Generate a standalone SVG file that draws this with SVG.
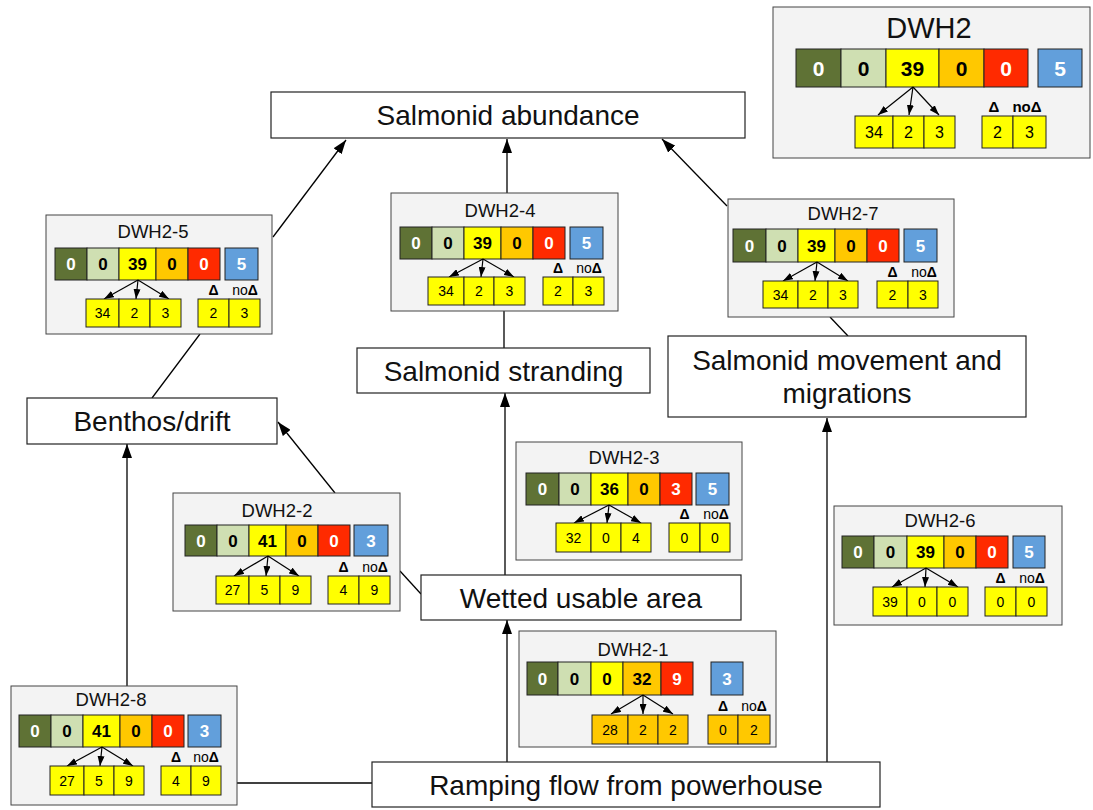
<svg xmlns="http://www.w3.org/2000/svg" width="1093" height="810" viewBox="0 0 1093 810">
  <defs>
    <marker id="arrow" viewBox="0 0 14 10" refX="14" refY="5" markerWidth="14" markerHeight="10" markerUnits="userSpaceOnUse" orient="auto">
      <path d="M0,0 L14,5 L0,10 Z" fill="#000"/>
    </marker>
    <marker id="tick" viewBox="0 0 10 7" refX="10" refY="3.5" markerWidth="10" markerHeight="7" markerUnits="userSpaceOnUse" orient="auto">
      <path d="M0,0 L10,3.5 L0,7 Z" fill="#000"/>
    </marker>
  </defs>
  <style>
    text { font-family: "Liberation Sans", Arial, sans-serif; text-anchor: middle; }
    .panel { fill: #f3f3f3; stroke: #444; stroke-width: 1; }
    .node { fill: #fff; stroke: #222; stroke-width: 1.2; }
    .cell { stroke: #222; stroke-width: 1; }
    .g1 { fill: #5f7235; }
    .g2 { fill: #cfdfb2; }
    .y { fill: #ffff00; }
    .o { fill: #ffc800; }
    .r { fill: #ff2a00; }
    .b { fill: #629fdb; }
    .num { font-size: 17px; font-weight: bold; }
    .wt { fill: #fff; }
    .bk { fill: #000; }
    .sub { font-size: 14px; fill: #000; }
    .ttl { font-size: 18.5px; fill: #111; }
    .lbl { font-size: 28px; fill: #111; }
    .dl { font-size: 14px; fill: #000; }
    .bold { font-weight: bold; }
    .link { stroke: #000; stroke-width: 1.3; fill: none; }
    .split { stroke: #000; stroke-width: 1.2; fill: none; }
  </style>

  <rect width="1093" height="810" fill="#fff"/>

  <!-- connectors -->
  <g id="connectors">
    <line class="link" x1="273" y1="237" x2="346" y2="140" marker-end="url(#arrow)"/>
    <line class="link" x1="507" y1="193" x2="507" y2="139" marker-end="url(#arrow)"/>
    <line class="link" x1="727" y1="206" x2="662" y2="139" marker-end="url(#arrow)"/>
    <line class="link" x1="152" y1="398" x2="200" y2="334"/>
    <line class="link" x1="335" y1="493" x2="278" y2="422" marker-end="url(#arrow)"/>
    <line class="link" x1="127" y1="686" x2="127" y2="444" marker-end="url(#arrow)"/>
    <line class="link" x1="504" y1="311" x2="504" y2="348"/>
    <line class="link" x1="505" y1="575" x2="505" y2="393" marker-end="url(#arrow)"/>
    <line class="link" x1="830" y1="317" x2="848" y2="336"/>
    <line class="link" x1="400" y1="571" x2="421" y2="594"/>
    <line class="link" x1="507" y1="762" x2="507" y2="620" marker-end="url(#arrow)"/>
    <line class="link" x1="827" y1="762" x2="827" y2="418" marker-end="url(#arrow)"/>
    <line class="link" x1="237" y1="783" x2="372" y2="783"/>
  </g>

  <!-- outcome and driver boxes -->
  <g id="salmonid-abundance">
    <rect class="node" x="271" y="92" width="474" height="46"/>
    <text class="lbl" x="508" y="125">Salmonid abundance</text>
  </g>
  <g id="benthos-drift">
    <rect class="node" x="27" y="398" width="250" height="46"/>
    <text class="lbl" x="152" y="431">Benthos/drift</text>
  </g>
  <g id="salmonid-stranding">
    <rect class="node" x="357" y="348" width="293" height="45"/>
    <text class="lbl" x="503.5" y="381">Salmonid stranding</text>
  </g>
  <g id="salmonid-movement">
    <rect class="node" x="668" y="336" width="358" height="81"/>
    <text class="lbl" x="847" y="370">Salmonid movement and</text>
    <text class="lbl" x="847" y="403">migrations</text>
  </g>
  <g id="wetted-usable-area">
    <rect class="node" x="421" y="575" width="320" height="45"/>
    <text class="lbl" x="581" y="608">Wetted usable area</text>
  </g>
  <g id="ramping-flow">
    <rect class="node" x="372" y="762" width="508" height="45"/>
    <text class="lbl" x="626" y="795">Ramping flow from powerhouse</text>
  </g>

  <!-- summary panel -->
  <g id="dwh2">
    <rect class="panel" x="773" y="7" width="317" height="151"/>
    <text x="929" y="38" style="font-size:29px" fill="#111">DWH2</text>
    <rect class="cell g1" x="796" y="49" width="45" height="38"/>
    <rect class="cell g2" x="841" y="49" width="45" height="38"/>
    <rect class="cell y" x="886" y="49" width="53" height="38"/>
    <rect class="cell o" x="939" y="49" width="45" height="38"/>
    <rect class="cell r" x="984" y="49" width="44" height="38"/>
    <rect class="cell b" x="1038" y="49" width="44" height="38"/>
    <g style="font-size:21px;font-weight:bold">
      <text class="wt" x="818.5" y="75.5">0</text>
      <text class="bk" x="863.5" y="75.5">0</text>
      <text class="bk" x="912.5" y="75.5">39</text>
      <text class="bk" x="961.5" y="75.5">0</text>
      <text class="wt" x="1006" y="75.5">0</text>
      <text class="wt" x="1060" y="75.5">5</text>
    </g>
    <line class="split" x1="913" y1="87" x2="878" y2="115" marker-end="url(#tick)"/>
    <line class="split" x1="913" y1="87" x2="909" y2="115" marker-end="url(#tick)"/>
    <line class="split" x1="913" y1="87" x2="939" y2="115" marker-end="url(#tick)"/>
    <rect class="cell y" x="855" y="116" width="38" height="32"/>
    <rect class="cell y" x="893" y="116" width="31" height="32"/>
    <rect class="cell y" x="924" y="116" width="31" height="32"/>
    <rect class="cell y" x="982" y="116" width="31" height="32"/>
    <rect class="cell y" x="1013" y="116" width="33" height="32"/>
    <g class="sub" style="font-size:16px">
      <text x="874" y="138">34</text>
      <text x="908.5" y="138">2</text>
      <text x="939.5" y="138">3</text>
      <text x="997.5" y="138">2</text>
      <text x="1029.5" y="138">3</text>
    </g>
    <text class="dl bold" x="994" y="112" style="font-size:15px">Δ</text>
    <text class="dl" x="1027" y="112" style="font-size:15px;font-weight:bold">no<tspan>Δ</tspan></text>
  </g>

  <!-- DWH2-5 -->
  <g id="dwh2-5">
    <rect class="panel" x="46" y="215" width="226" height="119"/>
    <g transform="translate(55,248)">
      <text class="ttl" x="98" y="-10">DWH2-5</text>
      <rect class="cell g1" x="0" y="0" width="32" height="32"/>
      <rect class="cell g2" x="32" y="0" width="32" height="32"/>
      <rect class="cell y" x="64" y="0" width="37" height="32"/>
      <rect class="cell o" x="101" y="0" width="32" height="32"/>
      <rect class="cell r" x="133" y="0" width="32" height="32"/>
      <rect class="cell b" x="170" y="0" width="33" height="32"/>
      <text class="num wt" x="16" y="22">0</text>
      <text class="num bk" x="48" y="22">0</text>
      <text class="num bk" x="82.5" y="22">39</text>
      <text class="num bk" x="117" y="22">0</text>
      <text class="num wt" x="149" y="22">0</text>
      <text class="num wt" x="186.5" y="22">5</text>
      <line class="split" x1="83" y1="32" x2="49" y2="51" marker-end="url(#tick)"/>
      <line class="split" x1="83" y1="32" x2="81" y2="51" marker-end="url(#tick)"/>
      <line class="split" x1="83" y1="32" x2="114" y2="51" marker-end="url(#tick)"/>
      <rect class="cell y" x="31" y="51" width="33" height="28"/>
      <rect class="cell y" x="64" y="51" width="31" height="28"/>
      <rect class="cell y" x="95" y="51" width="31" height="28"/>
      <rect class="cell y" x="143" y="51" width="31" height="28"/>
      <rect class="cell y" x="174" y="51" width="31" height="28"/>
      <text class="sub" x="47.5" y="70">34</text>
      <text class="sub" x="79.5" y="70">2</text>
      <text class="sub" x="110.5" y="70">3</text>
      <text class="sub" x="158.5" y="70">2</text>
      <text class="sub" x="189.5" y="70">3</text>
      <text class="dl bold" x="158.5" y="47">Δ</text>
      <text class="dl" x="190" y="47">no<tspan class="bold">Δ</tspan></text>
    </g>
  </g>

  <!-- DWH2-4 -->
  <g id="dwh2-4">
    <rect class="panel" x="391" y="193" width="227" height="118"/>
    <g transform="translate(400,227)">
      <text class="ttl" x="100" y="-10">DWH2-4</text>
      <rect class="cell g1" x="0" y="0" width="32" height="32"/>
      <rect class="cell g2" x="32" y="0" width="32" height="32"/>
      <rect class="cell y" x="64" y="0" width="37" height="32"/>
      <rect class="cell o" x="101" y="0" width="32" height="32"/>
      <rect class="cell r" x="133" y="0" width="32" height="32"/>
      <rect class="cell b" x="170" y="0" width="33" height="32"/>
      <text class="num wt" x="16" y="22">0</text>
      <text class="num bk" x="48" y="22">0</text>
      <text class="num bk" x="82.5" y="22">39</text>
      <text class="num bk" x="117" y="22">0</text>
      <text class="num wt" x="149" y="22">0</text>
      <text class="num wt" x="186.5" y="22">5</text>
      <line class="split" x1="83" y1="32" x2="49" y2="50" marker-end="url(#tick)"/>
      <line class="split" x1="83" y1="32" x2="81" y2="50" marker-end="url(#tick)"/>
      <line class="split" x1="83" y1="32" x2="114" y2="50" marker-end="url(#tick)"/>
      <rect class="cell y" x="28" y="50" width="36" height="28"/>
      <rect class="cell y" x="64" y="50" width="30" height="28"/>
      <rect class="cell y" x="94" y="50" width="31" height="28"/>
      <rect class="cell y" x="143" y="50" width="30" height="28"/>
      <rect class="cell y" x="173" y="50" width="31" height="28"/>
      <text class="sub" x="46" y="69">34</text>
      <text class="sub" x="79" y="69">2</text>
      <text class="sub" x="109.5" y="69">3</text>
      <text class="sub" x="158" y="69">2</text>
      <text class="sub" x="188.5" y="69">3</text>
      <text class="dl bold" x="158" y="46">Δ</text>
      <text class="dl" x="189" y="46">no<tspan class="bold">Δ</tspan></text>
    </g>
  </g>

  <!-- DWH2-7 -->
  <g id="dwh2-7">
    <rect class="panel" x="728" y="199" width="226" height="118"/>
    <g transform="translate(733,229)">
      <text class="ttl" x="110" y="-9">DWH2-7</text>
      <rect class="cell g1" x="0" y="0" width="33" height="33"/>
      <rect class="cell g2" x="33" y="0" width="32" height="33"/>
      <rect class="cell y" x="65" y="0" width="37" height="33"/>
      <rect class="cell o" x="102" y="0" width="32" height="33"/>
      <rect class="cell r" x="134" y="0" width="32" height="33"/>
      <rect class="cell b" x="171" y="0" width="33" height="33"/>
      <text class="num wt" x="16.5" y="22.5">0</text>
      <text class="num bk" x="49" y="22.5">0</text>
      <text class="num bk" x="83.5" y="22.5">39</text>
      <text class="num bk" x="118" y="22.5">0</text>
      <text class="num wt" x="150" y="22.5">0</text>
      <text class="num wt" x="187.5" y="22.5">5</text>
      <line class="split" x1="84" y1="33" x2="50" y2="52" marker-end="url(#tick)"/>
      <line class="split" x1="84" y1="33" x2="82" y2="52" marker-end="url(#tick)"/>
      <line class="split" x1="84" y1="33" x2="115" y2="52" marker-end="url(#tick)"/>
      <rect class="cell y" x="30" y="52" width="35" height="27"/>
      <rect class="cell y" x="65" y="52" width="30" height="27"/>
      <rect class="cell y" x="95" y="52" width="30" height="27"/>
      <rect class="cell y" x="144" y="52" width="31" height="27"/>
      <rect class="cell y" x="175" y="52" width="30" height="27"/>
      <text class="sub" x="47.5" y="70.5">34</text>
      <text class="sub" x="80" y="70.5">2</text>
      <text class="sub" x="110" y="70.5">3</text>
      <text class="sub" x="159.5" y="70.5">2</text>
      <text class="sub" x="190" y="70.5">3</text>
      <text class="dl bold" x="159.5" y="48">Δ</text>
      <text class="dl" x="191" y="48">no<tspan class="bold">Δ</tspan></text>
    </g>
  </g>

  <!-- DWH2-3 -->
  <g id="dwh2-3">
    <rect class="panel" x="516" y="442" width="226" height="118"/>
    <g transform="translate(526,473)">
      <text class="ttl" x="98" y="-9">DWH2-3</text>
      <rect class="cell g1" x="0" y="0" width="33" height="32"/>
      <rect class="cell g2" x="33" y="0" width="32" height="32"/>
      <rect class="cell y" x="65" y="0" width="37" height="32"/>
      <rect class="cell o" x="102" y="0" width="32" height="32"/>
      <rect class="cell r" x="134" y="0" width="32" height="32"/>
      <rect class="cell b" x="170" y="0" width="33" height="32"/>
      <text class="num wt" x="16.5" y="22">0</text>
      <text class="num bk" x="49" y="22">0</text>
      <text class="num bk" x="83.5" y="22">36</text>
      <text class="num bk" x="118" y="22">0</text>
      <text class="num wt" x="150" y="22">3</text>
      <text class="num wt" x="186.5" y="22">5</text>
      <line class="split" x1="83" y1="32" x2="48" y2="50" marker-end="url(#tick)"/>
      <line class="split" x1="83" y1="32" x2="81" y2="50" marker-end="url(#tick)"/>
      <line class="split" x1="83" y1="32" x2="115" y2="50" marker-end="url(#tick)"/>
      <rect class="cell y" x="30" y="50" width="35" height="29"/>
      <rect class="cell y" x="65" y="50" width="30" height="29"/>
      <rect class="cell y" x="95" y="50" width="30" height="29"/>
      <rect class="cell y" x="143" y="50" width="31" height="29"/>
      <rect class="cell y" x="174" y="50" width="30" height="29"/>
      <text class="sub" x="47.5" y="69.5">32</text>
      <text class="sub" x="80" y="69.5">0</text>
      <text class="sub" x="110" y="69.5">4</text>
      <text class="sub" x="158.5" y="69.5">0</text>
      <text class="sub" x="189" y="69.5">0</text>
      <text class="dl bold" x="158.5" y="46">Δ</text>
      <text class="dl" x="190" y="46">no<tspan class="bold">Δ</tspan></text>
    </g>
  </g>

  <!-- DWH2-2 -->
  <g id="dwh2-2">
    <rect class="panel" x="173" y="493" width="227" height="118"/>
    <g transform="translate(185,525)">
      <text class="ttl" x="92" y="-8">DWH2-2</text>
      <rect class="cell g1" x="0" y="0" width="32" height="31"/>
      <rect class="cell g2" x="32" y="0" width="32" height="31"/>
      <rect class="cell y" x="64" y="0" width="37" height="31"/>
      <rect class="cell o" x="101" y="0" width="32" height="31"/>
      <rect class="cell r" x="133" y="0" width="32" height="31"/>
      <rect class="cell b" x="169" y="0" width="34" height="31"/>
      <text class="num wt" x="16" y="21.5">0</text>
      <text class="num bk" x="48" y="21.5">0</text>
      <text class="num bk" x="82.5" y="21.5">41</text>
      <text class="num bk" x="117" y="21.5">0</text>
      <text class="num wt" x="149" y="21.5">0</text>
      <text class="num wt" x="186" y="21.5">3</text>
      <line class="split" x1="83" y1="31" x2="49" y2="51" marker-end="url(#tick)"/>
      <line class="split" x1="83" y1="31" x2="81" y2="51" marker-end="url(#tick)"/>
      <line class="split" x1="83" y1="31" x2="114" y2="51" marker-end="url(#tick)"/>
      <rect class="cell y" x="31" y="51" width="33" height="28"/>
      <rect class="cell y" x="64" y="51" width="31" height="28"/>
      <rect class="cell y" x="95" y="51" width="31" height="28"/>
      <rect class="cell y" x="143" y="51" width="31" height="28"/>
      <rect class="cell y" x="174" y="51" width="31" height="28"/>
      <text class="sub" x="47.5" y="70">27</text>
      <text class="sub" x="79.5" y="70">5</text>
      <text class="sub" x="110.5" y="70">9</text>
      <text class="sub" x="158.5" y="70">4</text>
      <text class="sub" x="189.5" y="70">9</text>
      <text class="dl bold" x="158.5" y="47">Δ</text>
      <text class="dl" x="190" y="47">no<tspan class="bold">Δ</tspan></text>
    </g>
  </g>

  <!-- DWH2-6 -->
  <g id="dwh2-6">
    <rect class="panel" x="834" y="506" width="228" height="119"/>
    <g transform="translate(842,536)">
      <text class="ttl" x="98" y="-9">DWH2-6</text>
      <rect class="cell g1" x="0" y="0" width="32" height="32"/>
      <rect class="cell g2" x="32" y="0" width="33" height="32"/>
      <rect class="cell y" x="65" y="0" width="37" height="32"/>
      <rect class="cell o" x="102" y="0" width="32" height="32"/>
      <rect class="cell r" x="134" y="0" width="32" height="32"/>
      <rect class="cell b" x="171" y="0" width="32" height="32"/>
      <text class="num wt" x="16" y="22">0</text>
      <text class="num bk" x="48.5" y="22">0</text>
      <text class="num bk" x="83.5" y="22">39</text>
      <text class="num bk" x="118" y="22">0</text>
      <text class="num wt" x="150" y="22">0</text>
      <text class="num wt" x="187" y="22">5</text>
      <line class="split" x1="84" y1="32" x2="50" y2="51" marker-end="url(#tick)"/>
      <line class="split" x1="84" y1="32" x2="83" y2="51" marker-end="url(#tick)"/>
      <line class="split" x1="84" y1="32" x2="116" y2="51" marker-end="url(#tick)"/>
      <rect class="cell y" x="31" y="51" width="34" height="29"/>
      <rect class="cell y" x="65" y="51" width="30" height="29"/>
      <rect class="cell y" x="95" y="51" width="31" height="29"/>
      <rect class="cell y" x="143" y="51" width="31" height="29"/>
      <rect class="cell y" x="174" y="51" width="31" height="29"/>
      <text class="sub" x="48" y="70.5">39</text>
      <text class="sub" x="80" y="70.5">0</text>
      <text class="sub" x="110.5" y="70.5">0</text>
      <text class="sub" x="158.5" y="70.5">0</text>
      <text class="sub" x="189.5" y="70.5">0</text>
      <text class="dl bold" x="158.5" y="47">Δ</text>
      <text class="dl" x="190" y="47">no<tspan class="bold">Δ</tspan></text>
    </g>
  </g>

  <!-- DWH2-1 -->
  <g id="dwh2-1">
    <rect class="panel" x="519" y="631" width="257" height="116"/>
    <text class="ttl" x="633" y="656">DWH2-1</text>
    <rect class="cell g1" x="527" y="662" width="31" height="33"/>
    <rect class="cell g2" x="558" y="662" width="33" height="33"/>
    <rect class="cell y" x="591" y="662" width="32" height="33"/>
    <rect class="cell o" x="623" y="662" width="38" height="33"/>
    <rect class="cell r" x="661" y="662" width="32" height="33"/>
    <rect class="cell b" x="711" y="662" width="32" height="33"/>
    <text class="num wt" x="542.5" y="684.5">0</text>
    <text class="num bk" x="574.5" y="684.5">0</text>
    <text class="num bk" x="607" y="684.5">0</text>
    <text class="num bk" x="642" y="684.5">32</text>
    <text class="num wt" x="677" y="684.5">9</text>
    <text class="num wt" x="727" y="684.5">3</text>
    <line class="split" x1="643" y1="695" x2="611" y2="714" marker-end="url(#tick)"/>
    <line class="split" x1="643" y1="695" x2="643" y2="714" marker-end="url(#tick)"/>
    <line class="split" x1="643" y1="695" x2="673" y2="714" marker-end="url(#tick)"/>
    <rect class="cell o" x="592" y="715" width="36" height="29"/>
    <rect class="cell o" x="628" y="715" width="30" height="29"/>
    <rect class="cell o" x="658" y="715" width="30" height="29"/>
    <rect class="cell o" x="708" y="715" width="30" height="29"/>
    <rect class="cell o" x="738" y="715" width="32" height="29"/>
    <text class="sub" x="610" y="734.5">28</text>
    <text class="sub" x="643" y="734.5">2</text>
    <text class="sub" x="673" y="734.5">2</text>
    <text class="sub" x="723" y="734.5">0</text>
    <text class="sub" x="754" y="734.5">2</text>
    <text class="dl bold" x="723" y="711">Δ</text>
    <text class="dl" x="754" y="711">no<tspan class="bold">Δ</tspan></text>
  </g>

  <!-- DWH2-8 -->
  <g id="dwh2-8">
    <rect class="panel" x="11" y="686" width="226" height="119"/>
    <g transform="translate(19,715)">
      <text class="ttl" x="92" y="-9">DWH2-8</text>
      <rect class="cell g1" x="0" y="0" width="32" height="32"/>
      <rect class="cell g2" x="32" y="0" width="32" height="32"/>
      <rect class="cell y" x="64" y="0" width="37" height="32"/>
      <rect class="cell o" x="101" y="0" width="32" height="32"/>
      <rect class="cell r" x="133" y="0" width="32" height="32"/>
      <rect class="cell b" x="169" y="0" width="33" height="32"/>
      <text class="num wt" x="16" y="22">0</text>
      <text class="num bk" x="48" y="22">0</text>
      <text class="num bk" x="82.5" y="22">41</text>
      <text class="num bk" x="117" y="22">0</text>
      <text class="num wt" x="149" y="22">0</text>
      <text class="num wt" x="185.5" y="22">3</text>
      <line class="split" x1="83" y1="32" x2="48" y2="51" marker-end="url(#tick)"/>
      <line class="split" x1="83" y1="32" x2="81" y2="51" marker-end="url(#tick)"/>
      <line class="split" x1="83" y1="32" x2="114" y2="51" marker-end="url(#tick)"/>
      <rect class="cell y" x="31" y="51" width="34" height="29"/>
      <rect class="cell y" x="65" y="51" width="30" height="29"/>
      <rect class="cell y" x="95" y="51" width="30" height="29"/>
      <rect class="cell y" x="142" y="51" width="30" height="29"/>
      <rect class="cell y" x="172" y="51" width="30" height="29"/>
      <text class="sub" x="48" y="70.5">27</text>
      <text class="sub" x="80" y="70.5">5</text>
      <text class="sub" x="110" y="70.5">9</text>
      <text class="sub" x="157" y="70.5">4</text>
      <text class="sub" x="187" y="70.5">9</text>
      <text class="dl bold" x="157" y="47">Δ</text>
      <text class="dl" x="187" y="47">no<tspan class="bold">Δ</tspan></text>
    </g>
  </g>
</svg>
